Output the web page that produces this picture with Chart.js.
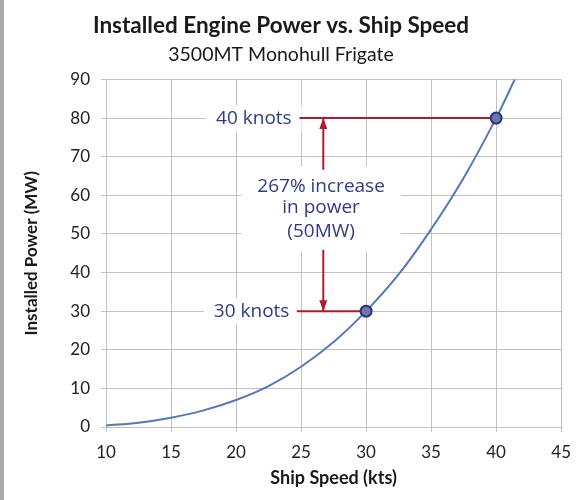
<!DOCTYPE html>
<html>
<head>
<meta charset="utf-8">
<script src="https://cdn.jsdelivr.net/npm/chart.js@4.4.1/dist/chart.umd.min.js"></script>
<style>
  html, body { margin: 0; padding: 0; background: #ffffff; }
  #wrap { position: relative; width: 581px; height: 500px; }
  #edge { position: absolute; left: 0; top: 0; width: 4px; height: 500px; background: #a9a9a9; }
</style>
</head>
<body>
<div id="wrap">
  <canvas id="c"></canvas>
  <div id="edge"></div>
</div>
<script>
// ---- data ----
const speedKts = [10, 12.5, 15, 17.5, 20, 22.5, 25, 27.5, 30, 32.5, 35, 37.5, 40, 41.5];
const powerMW  = [0.4, 1.1, 2.4, 4.3, 7.0, 10.6, 15.6, 22.0, 30, 39.5, 51.2, 64.5, 80, 90.5];

const markerKts = [30, 40];
const markerMW  = [30, 80];

// red reference lines (start kts, end kts) at given MW
const refStartKts = [24.88, 24.68];
const refEndKts   = [40, 30];
const refMW       = [80, 30];

// red vertical arrow (kts, from MW -> tip MW)
const arrowKts    = 26.71;
const arrowFromMW = [66.6, 45.9];
const arrowTipMW  = [80, 30];

const knotLabels  = ['40 knots', '30 knots'];
const knotLabelKts = [21.37, 21.2];
const knotLabelMW  = [80, 30];

const noteLines = ['267% increase', 'in power', '(50MW)'];
const noteKts   = 26.54;
const noteMW    = [62.3, 56.7, 50.6];

const xTicks = [10, 15, 20, 25, 30, 35, 40, 45];
const yTicks = [0, 10, 20, 30, 40, 50, 60, 70, 80, 90];

const titleText = 'Installed Engine Power vs. Ship Speed';
const subtitleText = '3500MT Monohull Frigate';
const xTitle = 'Ship Speed (kts)';
const yTitle = 'Installed Power (MW)';

// ---- styles ----
const RED = '#b11a30';
const NAVY = '#2f3b8a';
const GRID = '#c2c2c2';
const NOTE_FONT = '19px "Open Sans", sans-serif';

const curve = speedKts.map((x, i) => ({ x, y: powerMW[i] }));
const markers = markerKts.map((x, i) => ({ x, y: markerMW[i] }));
const refSets = refMW.map((m, i) => ({
  data: [{ x: refStartKts[i], y: m }, { x: refEndKts[i], y: m }],
  borderColor: RED, borderWidth: 2, pointRadius: 0, showLine: true, fill: false
}));
const arrowSets = arrowTipMW.map((m, i) => ({
  data: [{ x: arrowKts, y: arrowFromMW[i] }, { x: arrowKts, y: m }],
  borderColor: RED, borderWidth: 2, pointRadius: 0, showLine: true, fill: false
}));

function boxFor(ctx, lines, cx, cys, lineH, padX, padY) {
  let w = 0;
  lines.forEach(t => { w = Math.max(w, ctx.measureText(t).width); });
  const top = Math.min(...cys) - lineH / 2 - padY;
  const bot = Math.max(...cys) + lineH / 2 + padY;
  return { x: cx - w / 2 - padX, y: top, w: w + 2 * padX, h: bot - top };
}

const annotations = {
  id: 'annotations',
  beforeDatasetsDraw(chart) {
    const { ctx, scales: { x, y } } = chart;
    ctx.save();
    ctx.font = NOTE_FONT;
    ctx.fillStyle = '#ffffff';
    knotLabels.forEach((t, i) => {
      const b = boxFor(ctx, [t], x.getPixelForValue(knotLabelKts[i]), [y.getPixelForValue(knotLabelMW[i])], 20, 10, 3);
      ctx.fillRect(b.x, b.y, b.w, b.h);
    });
    const cys = noteMW.map(v => y.getPixelForValue(v));
    const nb = boxFor(ctx, noteLines, x.getPixelForValue(noteKts), cys, 20, 16, 10);
    ctx.fillRect(nb.x, nb.y, nb.w, nb.h);
    ctx.restore();
  },
  afterDatasetsDraw(chart) {
    const { ctx, scales: { x, y } } = chart;
    ctx.save();
    // arrowheads
    ctx.fillStyle = RED;
    const ax = x.getPixelForValue(arrowKts);
    arrowTipMW.forEach((m, i) => {
      const tip = y.getPixelForValue(m);
      const dir = y.getPixelForValue(arrowFromMW[i]) > tip ? 1 : -1;
      ctx.beginPath();
      ctx.moveTo(ax, tip);
      ctx.lineTo(ax - 4, tip + dir * 11);
      ctx.lineTo(ax + 4, tip + dir * 11);
      ctx.closePath();
      ctx.fill();
    });
    // texts
    ctx.font = NOTE_FONT;
    ctx.fillStyle = NAVY;
    ctx.textAlign = 'center';
    ctx.textBaseline = 'middle';
    knotLabels.forEach((t, i) => {
      ctx.fillText(t, x.getPixelForValue(knotLabelKts[i]), y.getPixelForValue(knotLabelMW[i]));
    });
    noteLines.forEach((t, i) => {
      ctx.fillText(t, x.getPixelForValue(noteKts), y.getPixelForValue(noteMW[i]));
    });
    ctx.restore();
  }
};

Chart.defaults.font.family = 'Lato, "Open Sans", sans-serif';
Chart.defaults.color = '#222222';

new Chart(document.getElementById('c'), {
  type: 'scatter',
  data: {
    datasets: [
      {
        data: markers,
        pointRadius: 5.5,
        pointBackgroundColor: '#6b78a6',
        pointBorderColor: '#27337f',
        pointBorderWidth: 2,
        showLine: false
      },
      {
        data: curve,
        showLine: true,
        borderColor: '#5479b9',
        borderWidth: 2,
        pointRadius: 0,
        tension: 0.4,
        fill: false
      },
      ...refSets,
      ...arrowSets
    ]
  },
  options: {
    responsive: true,
    maintainAspectRatio: false,
    animation: false,
    layout: { padding: { left: 0, right: 19, top: 0, bottom: 0 } },
    plugins: {
      legend: { display: false },
      tooltip: { enabled: false },
      title: {
        display: true,
        text: titleText,
        color: '#1a1a1a',
        font: { size: 22.5, weight: 'bold' },
        padding: { top: 12.5, bottom: 3.8 }
      },
      subtitle: {
        display: true,
        text: subtitleText,
        color: '#1a1a1a',
        font: { size: 19.5, weight: 'normal' },
        padding: { top: 0, bottom: 12.8 }
      }
    },
    scales: {
      x: {
        type: 'linear',
        min: 10, max: 45,
        afterBuildTicks: s => { s.ticks = xTicks.map(v => ({ value: v })); },
        afterFit: s => { s.height = 73; },
        ticks: { font: { size: 17 }, padding: 10, color: '#222' },
        grid: { color: GRID, tickLength: 5, lineWidth: 1 },
        border: { color: GRID },
        title: {
          display: true, text: xTitle, color: '#1a1a1a',
          font: { size: 18, weight: 'bold' },
          padding: { top: 0, bottom: 11.2 }
        }
      },
      y: {
        type: 'linear',
        min: 0, max: 90,
        afterBuildTicks: s => { s.ticks = yTicks.map(v => ({ value: v })); },
        afterFit: s => { s.width = 106; },
        ticks: { font: { size: 17 }, padding: 11, color: '#222' },
        grid: { color: GRID, tickLength: 5, lineWidth: 1 },
        border: { color: GRID },
        title: {
          display: true, text: yTitle, color: '#1a1a1a',
          font: { size: 17, weight: 'bold' },
          padding: { top: 21.8, bottom: 0 }
        }
      }
    }
  },
  plugins: [annotations]
});
</script>
</body>
</html>
